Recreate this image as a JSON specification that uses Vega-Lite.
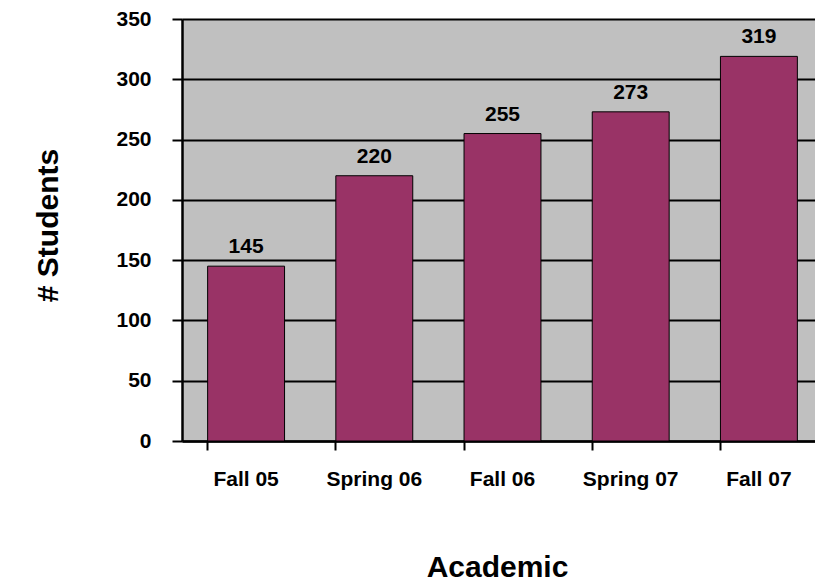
{
  "$schema": "https://vega.github.io/schema/vega-lite/v6.json",
  "autosize": "none",
  "padding": {"left": 182, "top": 19, "right": 0, "bottom": 140},
  "width": 641,
  "height": 422,
  "background": "white",
  "config": {
    "view": {"fill": "#C0C0C0", "stroke": null},
    "font": "Liberation Sans"
  },
  "data": {
    "values": [
      {"semester": "Fall 05", "students": 145},
      {"semester": "Spring 06", "students": 220},
      {"semester": "Fall 06", "students": 255},
      {"semester": "Spring 07", "students": 273},
      {"semester": "Fall 07", "students": 319}
    ]
  },
  "encoding": {
    "x": {
      "field": "semester",
      "type": "nominal",
      "sort": null,
      "scale": {"paddingInner": 0.4, "paddingOuter": 0.2},
      "axis": {
        "title": "Academic",
        "titleFont": "Liberation Sans",
        "titleFontSize": 30,
        "titleFontWeight": "bold",
        "titleColor": "black",
        "titleX": 315,
        "titleY": 135,
        "titleBaseline": "alphabetic",
        "titleAnchor": null,
        "titleAlign": "center",
        "labelAngle": 0,
        "labelFont": "Liberation Sans",
        "labelFontSize": 21,
        "labelFontWeight": "bold",
        "labelColor": "black",
        "labelBaseline": "alphabetic",
        "labelPadding": 35,
        "labelOverlap": false,
        "bandPosition": 0,
        "tickSize": 9,
        "tickWidth": 2,
        "tickColor": "black",
        "domainColor": "black",
        "domainWidth": 2.5,
        "grid": false
      }
    },
    "y": {
      "field": "students",
      "type": "quantitative",
      "scale": {"domain": [0, 350], "nice": false},
      "axis": {
        "values": [0, 50, 100, 150, 200, 250, 300, 350],
        "title": "# Students",
        "titleFont": "Liberation Sans",
        "titleFontSize": 30,
        "titleFontWeight": "bold",
        "titleColor": "black",
        "titleAngle": -90,
        "titleX": -125,
        "titleY": 206,
        "titleAlign": "center",
        "titleBaseline": "alphabetic",
        "titleAnchor": null,
        "labelFont": "Liberation Sans",
        "labelFontSize": 21,
        "labelFontWeight": "bold",
        "labelColor": "black",
        "labelPadding": 21,
        "tickSize": 10,
        "tickWidth": 2,
        "tickColor": "black",
        "domainColor": "black",
        "domainWidth": 2.5,
        "grid": true,
        "gridColor": "black",
        "gridWidth": 1.8,
        "gridOpacity": 1
      }
    }
  },
  "layer": [
    {
      "mark": {"type": "bar", "color": "#993366", "stroke": "black", "strokeWidth": 1}
    },
    {
      "mark": {
        "type": "text",
        "baseline": "alphabetic",
        "align": "center",
        "dy": -13,
        "font": "Liberation Sans",
        "fontSize": 21,
        "fontWeight": "bold",
        "color": "black"
      },
      "encoding": {"text": {"field": "students", "type": "quantitative"}}
    }
  ]
}
